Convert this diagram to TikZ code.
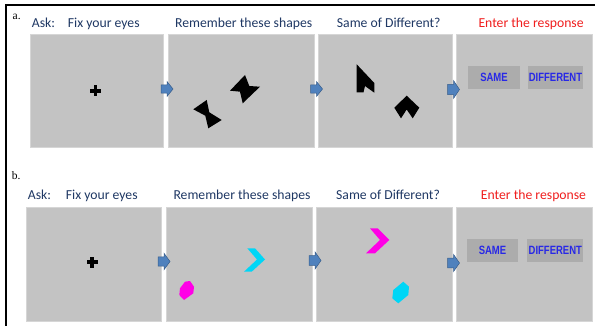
\documentclass[tikz,border=0pt]{standalone}
\usepackage{fontspec}
\setmainfont{Carlito}
\newfontfamily\tagfont{Liberation Serif}
\newfontfamily\btnfont{Liberation Sans}
\definecolor{panelgray}{RGB}{195,195,195}
\definecolor{paneledge}{RGB}{214,214,214}
\definecolor{btngray}{RGB}{172,172,172}
\definecolor{labelblue}{RGB}{31,56,100}
\definecolor{labelred}{RGB}{240,30,30}
\definecolor{btnblue}{RGB}{40,40,230}
\definecolor{arrowfill}{RGB}{79,129,189}
\definecolor{arrowedge}{RGB}{56,93,138}
\definecolor{shapecyan}{RGB}{0,214,246}
\definecolor{shapemagenta}{RGB}{255,0,230}
\newcommand{\btntext}[1]{\scalebox{0.95}[1.2]{#1}}
\tikzset{
  panel/.style={fill=panelgray, draw=paneledge, line width=0.8pt, inner sep=0pt, outer sep=0pt, minimum height=113pt},
  asktext/.style={font=\fontsize{13.7}{16}\selectfont, text=labelblue, inner sep=0pt, anchor=base west},
  resptext/.style={asktext, text=labelred},
  tagtext/.style={font=\tagfont\fontsize{11.5}{13}\selectfont, inner sep=0pt, anchor=base west},
  button/.style={fill=btngray, inner sep=0pt, minimum height=23pt, text=btnblue, font=\btnfont\bfseries\fontsize{10}{12}\selectfont},
  blockarrow/.pic={\draw[fill=arrowfill, draw=arrowedge, line width=0.5pt]
      (-6,-4.2) -- (0,-4.2) -- (0,-7.5) -- (6,0) -- (0,7.5) -- (0,4.2) -- (-6,4.2) -- cycle;},
  fixcross/.pic={\fill[black] (-5.5,-1.8) rectangle (5.5,1.8); \fill[black] (-1.8,-5.5) rectangle (1.8,5.5);},
}
\begin{document}
\begin{tikzpicture}[x=1pt,y=-1pt]
\useasboundingbox[fill=white] (0,0) rectangle (595,326);
% frame
\draw[line width=2pt] (6,326) -- (6,5.5) -- (595,5.5);

% ---------- row a ----------
\node[tagtext] (taga) at (12.5,19.3) {a.};
\node[asktext] (aska) at (31.7,28) {Ask:};
\node[asktext] (la1) at (67.7,28) {Fix your eyes};
\node[asktext] (la2) at (175,28) {Remember these shapes};
\node[asktext] (la3) at (336.7,28) {Same of Different?};
\node[resptext] (la4) at (478.3,28) {Enter the response};

\node[panel, minimum width=133pt] (a1) at (96.5,90.5) {};
\node[panel, minimum width=146pt] (a2) at (241,90.5) {};
\node[panel, minimum width=134pt] (a3) at (385,90.5) {};
\node[panel, minimum width=136pt] (a4) at (524,90.5) {};

\pic at (95.5,91) {fixcross};
% bow ties
\fill[black] (245,75) -- (249.3,86) -- (260,86.7) -- (242.7,103.3) -- (240,91.7) -- (230,90.7) -- cycle;
\fill[black] (193.3,109.3) -- (206.7,100) -- (209.3,112.3) -- (221.7,120) -- (208.3,128.3) -- (205.3,115.7) -- cycle;
% pointer and spade
\fill[black] (356.7,64.3) -- (374.3,83) -- (374.3,92.7) -- (365,86) -- (363.5,92.3) -- (356.7,92.3) -- cycle;
\fill[black] (406.7,95.7) -- (419.3,107.7) -- (412.7,118.3) -- (406.7,109.5) -- (401,118.3) -- (394.3,107.7) -- cycle;

\node[button, minimum width=52pt] (asame) at (494,77.7) {\btntext{SAME}};
\node[button, minimum width=55.6pt] (adiff) at (555.5,77.5) {\btntext{DIFFERENT}};

\pic at (167,89) {blockarrow};
\pic at (316.5,89) {blockarrow};
\pic[yscale=1.2] at (453.5,89.5) {blockarrow};

% ---------- row b ----------
\node[tagtext] (tagb) at (11.7,179.3) {b.};
\node[asktext] (askb) at (27.7,200) {Ask:};
\node[asktext] (lb1) at (65.7,200) {Fix your eyes};
\node[asktext] (lb2) at (173.3,200) {Remember these shapes};
\node[asktext] (lb3) at (336,200) {Same of Different?};
\node[resptext] (lb4) at (480.7,200) {Enter the response};

\node[panel, minimum width=135pt, minimum height=114pt] (b1) at (93.5,264) {};
\node[panel, minimum width=146pt, minimum height=114pt] (b2) at (239,264) {};
\node[panel, minimum width=136pt, minimum height=114pt] (b3) at (384,264) {};
\node[panel, minimum width=136pt, minimum height=114pt] (b4) at (524,264) {};

\pic at (92,262) {fixcross};
% chevrons and hexagons
\fill[shapecyan] (247.3,248.3) -- (255,248.3) -- (265,259.5) -- (251.7,271.7) -- (244,271.7) -- (257,259.5) -- cycle;
\fill[shapemagenta] (185,281.7) -- (190,281) -- (194,286.7) -- (193.3,293.3) -- (184,300) -- (179.3,295) -- (180,288.3) -- cycle;
\fill[shapemagenta] (370,228.3) -- (377.7,228.3) -- (389.3,240) -- (375,253.3) -- (366,253.3) -- (380,240) -- cycle;
\fill[shapecyan] (403.3,281.7) -- (409,286.7) -- (408.3,295) -- (398.3,303.3) -- (392.3,298.3) -- (393.3,290) -- cycle;

\node[button, minimum width=51.6pt, minimum height=22.7pt] (bsame) at (492.5,250.3) {\btntext{SAME}};
\node[button, minimum width=56pt, minimum height=22.7pt] (bdiff) at (555.3,250.3) {\btntext{DIFFERENT}};

\pic[yscale=1.1] at (164,261.5) {blockarrow};
\pic[yscale=1.15] at (315,260.5) {blockarrow};
\pic[yscale=1.15] at (453.5,263) {blockarrow};
\end{tikzpicture}
\end{document}
